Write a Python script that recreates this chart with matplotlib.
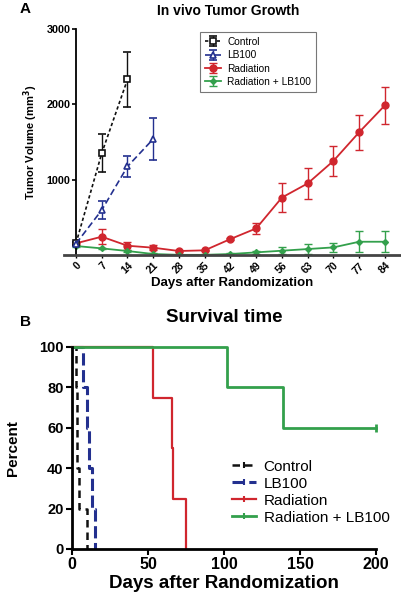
import numpy as np
import matplotlib
matplotlib.use('Agg')
from matplotlib import pyplot as plt
from matplotlib.lines import Line2D

plt.rcParams['font.family'] = ['Liberation Sans', 'DejaVu Sans']

# Painel A - crescimento tumoral
dias = [0, 7, 14, 21, 28, 35, 42, 49, 56, 63, 70, 77, 84]
dias_controle = [0, 7, 14]
vol_controle = [155, 1350, 2330]
err_controle = [20, 250, 360]
dias_lb100 = [0, 7, 14, 21]
vol_lb100 = [150, 596, 1175, 1540]
err_lb100 = [20, 120, 135, 280]
vol_radiacao = [155, 243, 123, 97, 53, 62, 212, 353, 763, 950, 1249, 1630, 1987]
err_radiacao = [20, 97, 50, 32, 10, 10, 15, 70, 190, 210, 200, 235, 245]
vol_combo = [119, 88, 53, 13, 2, 2, 13, 35, 57, 79, 101, 176, 176]
err_combo = [10, 10, 10, 10, 5, 5, 8, 20, 45, 67, 62, 137, 142]

# Painel B - sobrevida (Kaplan-Meier)
t_controle = [0, 2.5, 3.5, 4.5, 10]
s_controle = [100, 80, 40, 20, 0]
t_lb100 = [0, 7.5, 10, 11.5, 13, 15]
s_lb100 = [100, 80, 60, 40, 20, 0]
t_radiacao = [0, 53, 66, 66.5, 75]
s_radiacao = [100, 75, 50, 25, 0]
t_combo = [0, 102, 139, 200]
s_combo = [100, 80, 60, 60]

preto = '#111111'
azul = '#23308f'
vermelho = '#d0262e'
verde = '#33a04c'

fig = plt.figure(figsize=(4.02, 6.0), dpi=100)

# ---------------- A ----------------
axA = fig.add_axes([64/402, 1-255/600, 336/402, 226/600])
axA.errorbar(dias_controle, vol_controle, yerr=err_controle, color=preto, ls=(0, (2, 1.5)),
             lw=1.2, marker='s', ms=4.5, mfc='white', mec=preto, mew=1.2, capsize=3, elinewidth=1,
             label='Control', zorder=3)
axA.errorbar(dias_lb100, vol_lb100, yerr=err_lb100, color=azul, ls=(0, (4, 2)),
             lw=1.2, marker='^', ms=5, mfc='white', mec=azul, mew=1.2, capsize=3, elinewidth=1,
             label='LB100', zorder=3)
axA.errorbar(dias, vol_radiacao, yerr=err_radiacao, color=vermelho, ls='-',
             lw=1.3, marker='o', ms=5, capsize=3, elinewidth=1, label='Radiation', zorder=2)
axA.errorbar(dias, vol_combo, yerr=err_combo, color=verde, ls='-',
             lw=1.3, marker='D', ms=3, capsize=3, elinewidth=1, label='Radiation + LB100', zorder=2)

axA.set_xlim(-3.26, 88.1)
axA.set_ylim(0, 3000)
axA.spines['top'].set_visible(False)
axA.spines['right'].set_visible(False)
axA.spines['left'].set_position(('data', 0))
axA.spines['left'].set_linewidth(1.3)
axA.spines['bottom'].set_linewidth(2)
axA.spines['bottom'].set_color('#444444')
axA.set_yticks([1000, 2000, 3000])
axA.set_xticks(dias)
axA.tick_params(axis='y', direction='out', length=3, width=1.2, labelsize=7.8, pad=1)
axA.tick_params(axis='x', direction='out', length=2, width=1, labelsize=7.5, pad=2)
for lab in axA.get_yticklabels():
    lab.set_fontweight('bold')
for lab in axA.get_xticklabels():
    lab.set_fontweight('bold')
    lab.set_rotation(45)
    lab.set_ha('right')
    lab.set_va('top')
    lab.set_rotation_mode('anchor')
axA.set_xlabel('Days after Randomization', fontsize=9.5, fontweight='bold', labelpad=1)
axA.set_ylabel('Tumor Volume (mm$^\\mathbf{3}$)', fontsize=8, fontweight='bold')
axA.yaxis.set_label_coords(-0.07, 0.5)
axA.set_title('In vivo Tumor Growth', fontsize=10, fontweight='bold', pad=10, x=0.49)

handles, labels = axA.get_legend_handles_labels()
legA = axA.legend(handles, labels, loc='upper left', bbox_to_anchor=(0.39, 1.01), fontsize=7.3,
                  frameon=True, fancybox=False, edgecolor='#555555', handlelength=1.6,
                  handletextpad=0.6, labelspacing=0.33, borderpad=0.5)
legA.get_frame().set_linewidth(0.8)

# ---------------- B ----------------
axB = fig.add_axes([72/402, 1-549/600, 304/402, 202/600])
linhas = [
    (t_controle, s_controle, preto, (0, (3, 2)), 1.8, 'Control'),
    (t_lb100, s_lb100, azul, (0, (4, 1.5)), 2.2, 'LB100'),
    (t_radiacao, s_radiacao, vermelho, '-', 1.6, 'Radiation'),
    (t_combo, s_combo, verde, '-', 2.0, 'Radiation + LB100'),
]
for t, s, cor, estilo, lw, nome in linhas:
    axB.plot(t, s, drawstyle='steps-post', color=cor, ls=estilo, lw=lw, label=nome, clip_on=False)
axB.plot([t_combo[-1]], [s_combo[-1]], marker='|', color=verde, ms=6, mew=2, clip_on=False)

axB.set_xlim(0, 200)
axB.set_ylim(0, 100)
axB.spines['top'].set_visible(False)
axB.spines['right'].set_visible(False)
axB.spines['left'].set_linewidth(2)
axB.spines['bottom'].set_linewidth(2)
axB.set_xticks([0, 50, 100, 150, 200])
axB.set_yticks([0, 20, 40, 60, 80, 100])
axB.tick_params(axis='both', direction='out', length=4, width=1.5, pad=2)
axB.tick_params(axis='x', labelsize=11.5)
axB.tick_params(axis='y', labelsize=10.5)
for lab in axB.get_xticklabels() + axB.get_yticklabels():
    lab.set_fontweight('bold')
axB.set_xlabel('Days after Randomization', fontsize=13.5, fontweight='bold', labelpad=2)
axB.set_ylabel('Percent', fontsize=11, fontweight='bold', labelpad=14)
axB.set_title('Survival time', fontsize=13.5, fontweight='bold', pad=18, x=0.5)

hB = [Line2D([0], [0], color=c, ls=e, lw=w, marker='|', ms=5, mew=1.5)
      for _, _, c, e, w, _ in linhas]
axB.legend(hB, [l[5] for l in linhas], loc='upper left', bbox_to_anchor=(0.5, 0.48),
           fontsize=11, frameon=False, handlelength=1.6, handletextpad=0.5,
           labelspacing=0.2, borderpad=0)

fig.text(20/402, 1-9/600, 'A', fontsize=11, fontweight='bold', ha='left', va='center')
fig.text(20/402, 1-322/600, 'B', fontsize=11, fontweight='bold', ha='left', va='center')

plt.savefig('out.png', dpi=100)
